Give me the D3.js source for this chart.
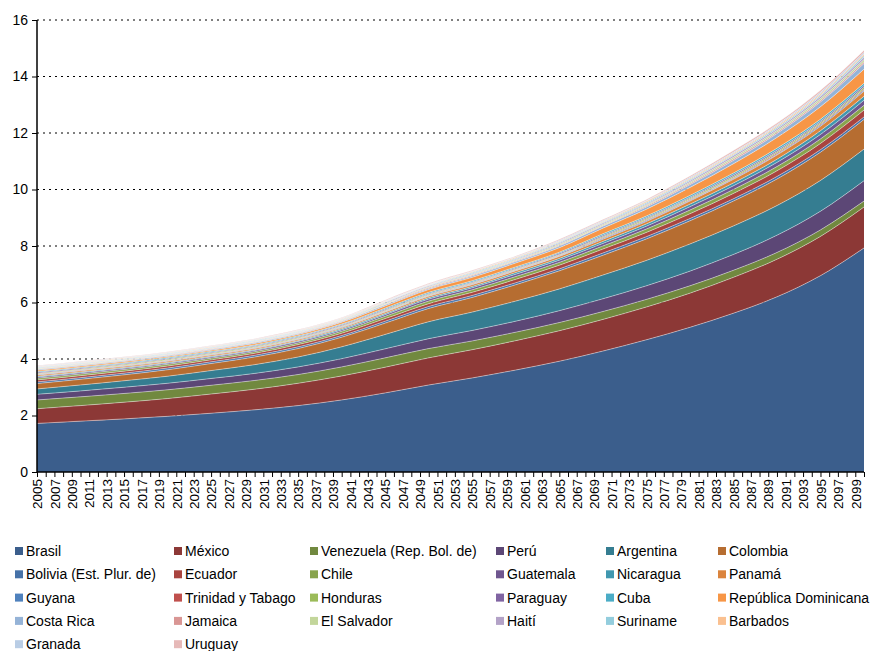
<!DOCTYPE html>
<html>
<head>
<meta charset="utf-8">
<script src="https://cdn.jsdelivr.net/npm/d3@7"></script>
<style>
  html, body { margin: 0; padding: 0; background: #fff; }
  svg { display: block; font-family: "Liberation Sans", Arial, sans-serif; }
</style>
</head>
<body>
<svg id="chart" width="872" height="651"></svg>
<script>
// Sample years (every 5 years)
const years = [2005, 2010, 2015, 2020, 2025, 2030, 2035, 2040, 2045, 2050,
               2055, 2060, 2065, 2070, 2075, 2080, 2085, 2090, 2095, 2100];

// Values per country, one per sample year
const brasil     = [1.72, 1.80, 1.88, 1.97, 2.08, 2.20, 2.35, 2.55, 2.80, 3.08, 3.33, 3.61, 3.92, 4.28, 4.68, 5.12, 5.62, 6.20, 6.95, 7.93];
const mexico     = [0.52, 0.55, 0.59, 0.63, 0.68, 0.73, 0.79, 0.85, 0.91, 0.96, 1.00, 1.04, 1.08, 1.12, 1.16, 1.21, 1.27, 1.33, 1.39, 1.45];
const venezuela  = [0.31, 0.31, 0.31, 0.31, 0.31, 0.31, 0.31, 0.32, 0.33, 0.33, 0.31, 0.30, 0.29, 0.28, 0.27, 0.26, 0.25, 0.24, 0.23, 0.21];
const peru       = [0.20, 0.21, 0.22, 0.23, 0.24, 0.25, 0.27, 0.29, 0.32, 0.35, 0.37, 0.39, 0.42, 0.45, 0.48, 0.52, 0.56, 0.61, 0.66, 0.72];
const argentina  = [0.19, 0.21, 0.23, 0.25, 0.28, 0.31, 0.35, 0.42, 0.51, 0.60, 0.65, 0.71, 0.77, 0.84, 0.90, 0.96, 1.01, 1.05, 1.09, 1.12];
const colombia   = [0.19, 0.20, 0.21, 0.23, 0.25, 0.27, 0.30, 0.34, 0.40, 0.47, 0.52, 0.58, 0.64, 0.70, 0.76, 0.82, 0.88, 0.94, 1.00, 1.05];
const bolivia    = [0.06, 0.06, 0.06, 0.06, 0.06, 0.06, 0.06, 0.06, 0.07, 0.07, 0.07, 0.07, 0.07, 0.08, 0.08, 0.08, 0.08, 0.09, 0.09, 0.09];
const ecuador    = [0.07, 0.07, 0.07, 0.07, 0.07, 0.07, 0.08, 0.08, 0.09, 0.10, 0.11, 0.12, 0.13, 0.14, 0.15, 0.17, 0.19, 0.20, 0.22, 0.24];
const chile      = [0.06, 0.06, 0.06, 0.06, 0.06, 0.06, 0.06, 0.07, 0.08, 0.09, 0.09, 0.10, 0.10, 0.11, 0.12, 0.13, 0.14, 0.15, 0.16, 0.17];
const guatemala  = [0.04, 0.04, 0.04, 0.04, 0.04, 0.04, 0.05, 0.05, 0.06, 0.07, 0.07, 0.08, 0.08, 0.09, 0.10, 0.12, 0.13, 0.15, 0.16, 0.18];
const nicaragua  = [0.03, 0.03, 0.03, 0.03, 0.03, 0.03, 0.03, 0.04, 0.04, 0.05, 0.05, 0.06, 0.06, 0.07, 0.08, 0.09, 0.10, 0.11, 0.13, 0.14];
const panama     = [0.04, 0.04, 0.04, 0.04, 0.04, 0.04, 0.04, 0.04, 0.05, 0.05, 0.06, 0.06, 0.07, 0.08, 0.09, 0.11, 0.13, 0.15, 0.16, 0.18];
const guyana     = [0.02, 0.02, 0.02, 0.02, 0.02, 0.02, 0.02, 0.02, 0.02, 0.02, 0.02, 0.02, 0.02, 0.03, 0.03, 0.03, 0.03, 0.03, 0.04, 0.04];
const trinidad   = [0.02, 0.02, 0.02, 0.02, 0.02, 0.02, 0.02, 0.02, 0.02, 0.02, 0.02, 0.02, 0.02, 0.03, 0.03, 0.03, 0.03, 0.04, 0.04, 0.04];
const honduras   = [0.03, 0.03, 0.03, 0.03, 0.03, 0.03, 0.03, 0.03, 0.03, 0.03, 0.03, 0.03, 0.03, 0.04, 0.04, 0.04, 0.05, 0.05, 0.05, 0.06];
const paraguay   = [0.03, 0.03, 0.03, 0.03, 0.03, 0.03, 0.03, 0.03, 0.03, 0.03, 0.03, 0.03, 0.04, 0.04, 0.04, 0.04, 0.05, 0.05, 0.05, 0.06];
const cuba       = [0.03, 0.03, 0.03, 0.03, 0.03, 0.03, 0.03, 0.03, 0.04, 0.04, 0.04, 0.04, 0.04, 0.05, 0.05, 0.06, 0.06, 0.07, 0.07, 0.08];
const repDom     = [0.04, 0.04, 0.04, 0.04, 0.04, 0.05, 0.05, 0.06, 0.08, 0.10, 0.12, 0.14, 0.16, 0.20, 0.24, 0.28, 0.33, 0.38, 0.44, 0.50];
const costaRica  = [0.03, 0.03, 0.03, 0.03, 0.03, 0.03, 0.03, 0.03, 0.04, 0.04, 0.05, 0.05, 0.06, 0.07, 0.08, 0.10, 0.12, 0.14, 0.17, 0.20];
const jamaica    = [0.02, 0.02, 0.02, 0.02, 0.02, 0.02, 0.02, 0.02, 0.02, 0.03, 0.03, 0.03, 0.03, 0.03, 0.04, 0.04, 0.05, 0.05, 0.05, 0.06];
const elSalvador = [0.02, 0.02, 0.02, 0.02, 0.02, 0.02, 0.02, 0.02, 0.03, 0.03, 0.03, 0.03, 0.04, 0.04, 0.04, 0.05, 0.06, 0.06, 0.07, 0.08];
const haiti      = [0.02, 0.02, 0.02, 0.02, 0.02, 0.02, 0.02, 0.02, 0.03, 0.03, 0.03, 0.03, 0.04, 0.04, 0.04, 0.05, 0.06, 0.06, 0.07, 0.08];
const suriname   = [0.02, 0.02, 0.02, 0.02, 0.02, 0.02, 0.02, 0.02, 0.02, 0.02, 0.03, 0.03, 0.03, 0.03, 0.04, 0.04, 0.04, 0.05, 0.05, 0.06];
const barbados   = [0.02, 0.02, 0.02, 0.02, 0.02, 0.02, 0.02, 0.02, 0.02, 0.02, 0.03, 0.03, 0.03, 0.03, 0.04, 0.04, 0.04, 0.05, 0.05, 0.06];
const granada    = [0.02, 0.02, 0.02, 0.02, 0.02, 0.02, 0.02, 0.02, 0.02, 0.02, 0.02, 0.02, 0.03, 0.03, 0.03, 0.04, 0.04, 0.04, 0.05, 0.05];
const uruguay    = [0.02, 0.02, 0.02, 0.02, 0.02, 0.02, 0.02, 0.02, 0.03, 0.03, 0.03, 0.03, 0.04, 0.04, 0.04, 0.05, 0.06, 0.06, 0.07, 0.08];

// Series names in stacking / legend order
const names = ["Brasil", "México", "Venezuela (Rep. Bol. de)", "Perú", "Argentina", "Colombia",
               "Bolivia (Est. Plur. de)", "Ecuador", "Chile", "Guatemala", "Nicaragua", "Panamá",
               "Guyana", "Trinidad y Tabago", "Honduras", "Paraguay", "Cuba", "República Dominicana",
               "Costa Rica", "Jamaica", "El Salvador", "Haití", "Suriname", "Barbados",
               "Granada", "Uruguay"];
const values = [brasil, mexico, venezuela, peru, argentina, colombia,
                bolivia, ecuador, chile, guatemala, nicaragua, panama,
                guyana, trinidad, honduras, paraguay, cuba, repDom,
                costaRica, jamaica, elSalvador, haiti, suriname, barbados,
                granada, uruguay];
const colors = ["#3B5E8C", "#8C3836", "#71893F", "#5C4776", "#357D91", "#B66D31",
                "#4672A8", "#A9443F", "#88A44D", "#6F568F", "#4097AF", "#DB843D",
                "#4F81BD", "#C0504D", "#9BBB59", "#8064A2", "#4BACC6", "#F79646",
                "#95B3D7", "#D99694", "#C3D69B", "#B3A2C7", "#93CDDD", "#FAC090",
                "#B9CDE5", "#E6B9B8"];

// Axis ticks
const yTicks = [0, 2, 4, 6, 8, 10, 12, 14, 16];
const firstYear = 2005, lastYear = 2100;

const rows = years.map((yr, i) => {
  const r = { year: yr };
  names.forEach((n, k) => { r[n] = values[k][i]; });
  return r;
});

const svg = d3.select("#chart");
const plotLeft = 37, plotRight = 864, plotTop = 20, plotBottom = 472;
const fontFam = "'Liberation Sans', Arial, sans-serif";

const x = d3.scaleLinear().domain([firstYear, lastYear]).range([plotLeft, plotRight]);
const y = d3.scaleLinear().domain([0, 16]).range([plotBottom, plotTop]);

// Gridlines (dotted)
svg.append("g")
  .selectAll("line")
  .data(yTicks.filter(d => d > 0))
  .join("line")
  .attr("x1", plotLeft).attr("x2", plotRight)
  .attr("y1", d => y(d)).attr("y2", d => y(d))
  .attr("stroke", "#000")
  .attr("stroke-width", 1)
  .attr("stroke-dasharray", "2,4");

// Stacked areas
const stacked = d3.stack().keys(names)(rows);
const area = d3.area()
  .x(d => x(d.data.year))
  .y0(d => y(d[0]))
  .y1(d => y(d[1]))
  .curve(d3.curveMonotoneX);
const edgeLine = d3.line()
  .x(d => x(d.data.year))
  .y(d => y(d[1]))
  .curve(d3.curveMonotoneX);

const layers = svg.append("g");
layers.selectAll("path.area")
  .data(stacked)
  .join("path")
  .attr("class", "area")
  .attr("fill", (d, i) => colors[i])
  .attr("d", area);
layers.selectAll("path.edge")
  .data(stacked)
  .join("path")
  .attr("class", "edge")
  .attr("fill", "none")
  .attr("stroke", "rgba(255,255,255,0.6)")
  .attr("stroke-width", 0.7)
  .attr("d", edgeLine);

// Y axis
const yAxis = d3.axisLeft(y).tickValues(yTicks).tickSize(5).tickPadding(4).tickFormat(d3.format("d"));
const gy = svg.append("g").attr("transform", `translate(${plotLeft},0)`).call(yAxis);
gy.select(".domain").attr("stroke", "#000").attr("stroke-width", 1.5).attr("d", `M0,${plotTop}V${plotBottom}`);
gy.selectAll(".tick line").attr("stroke", "#000");
gy.selectAll(".tick text").attr("font-size", 14).attr("fill", "#000").attr("font-family", fontFam);

// X axis: a tick every year, label every second year
const allYears = d3.range(firstYear, lastYear + 1);
const xAxis = d3.axisBottom(x).tickValues(allYears).tickSize(5)
  .tickFormat(d => ((d - firstYear) % 2 === 0 && d < lastYear) ? String(d) : "");
const gx = svg.append("g").attr("transform", `translate(0,${plotBottom})`).call(xAxis);
gx.select(".domain").attr("stroke", "#000").attr("stroke-width", 1.5).attr("d", `M${plotLeft},0H${plotRight}`);
gx.selectAll(".tick line").attr("stroke", "#000");
gx.selectAll(".tick text")
  .attr("font-size", 13.5).attr("fill", "#000")
  .attr("font-family", fontFam)
  .attr("text-anchor", "end")
  .attr("transform", "rotate(-90)")
  .attr("x", -7).attr("y", 0).attr("dy", "0.35em");

// Legend: 6 columns
const colX = [15, 174, 310, 496, 606, 718];
const rowY0 = 551, rowStep = 23.3;
const legend = svg.append("g");
const items = legend.selectAll("g").data(names).join("g")
  .attr("transform", (d, i) => `translate(${colX[i % 6]},${rowY0 + Math.floor(i / 6) * rowStep})`);
items.append("rect").attr("x", 0).attr("y", -4).attr("width", 8).attr("height", 8)
  .attr("fill", (d, i) => colors[i]);
items.append("text").attr("x", 11).attr("y", 0).attr("dy", "0.35em")
  .attr("font-size", 14).attr("font-family", fontFam).attr("fill", "#000").text(d => d);
</script>
</body>
</html>
